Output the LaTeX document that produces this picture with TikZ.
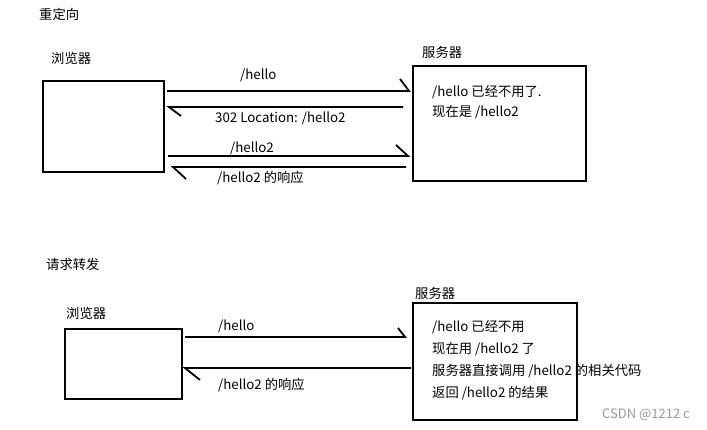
\documentclass[tikz,border=0pt]{standalone}
\usepackage{fontspec}
\setmainfont{Noto Sans CJK SC}
\begin{document}
\begin{tikzpicture}[x=1pt,y=-1pt,
  box/.style={draw=black, line width=2pt, minimum width=#1, inner sep=0pt},
  lbl/.style={anchor=west, inner sep=0pt, font=\fontsize{13.3}{15}\selectfont},
  msg/.style={line width=1.8pt, line join=miter, line cap=butt}]
\useasboundingbox (0,0) rectangle (707,429);
% --- top: redirect ---
\node[lbl] (t1) at (39,14) {重定向};
\node[lbl] (bl1) at (51,58) {浏览器};
\node[lbl] (sl1) at (422,52) {服务器};
\node[box=121pt, minimum height=91pt] (b1) at (103.5,126.5) {};
\node[box=173pt, minimum height=115pt] (s1) at (499.5,123.5) {};
\node[lbl] (s1a) at (432,92) {/hello 已经不用了.};
\node[lbl] (s1b) at (432,112) {现在是 /hello2};
\coordinate (a1s) at (167,91);  \coordinate (a1e) at (409,91);
\coordinate (a2s) at (403,107); \coordinate (a2e) at (169,107);
\coordinate (a3s) at (168,156); \coordinate (a3e) at (408,156);
\coordinate (a4s) at (406,167); \coordinate (a4e) at (173,167);
\draw[msg] (a1s) -- (a1e) -- ++(-9,-12);
\draw[msg] (a2s) -- (a2e) -- ++(12,9);
\draw[msg] (a3s) -- (a3e) -- ++(-12,-11);
\draw[msg] (a4s) -- (a4e) -- ++(13,12);
\node[lbl] (l1) at (240,75) {/hello};
\node[lbl] (l2) at (215,118) {302 Location: /hello2};
\node[lbl] (l3) at (230,148) {/hello2};
\node[lbl] (l4) at (217,178) {/hello2 的响应};
% --- bottom: forward ---
\node[lbl] (t2) at (46,264) {请求转发};
\node[lbl] (bl2) at (66,313) {浏览器};
\node[lbl] (sl2) at (415,293) {服务器};
\node[box=117pt, minimum height=70pt] (b2) at (123.5,364) {};
\node[box=164pt, minimum height=117pt] (s2) at (495,361.5) {};
\node[lbl] (s2a) at (432,327) {/hello 已经不用};
\node[lbl] (s2b) at (432,349) {现在用 /hello2 了};
\node[lbl] (s2c) at (432,371) {服务器直接调用 /hello2 的相关代码};
\node[lbl] (s2d) at (432,393) {返回 /hello2 的结果};
\coordinate (c1s) at (185,337); \coordinate (c1e) at (405,337);
\coordinate (c2s) at (411,368); \coordinate (c2e) at (185,368);
\draw[msg] (c1s) -- (c1e) -- ++(-7,-9);
\draw[msg] (c2s) -- (c2e) -- ++(15,12);
\node[lbl] (m1) at (218,326) {/hello};
\node[lbl] (m2) at (218,385) {/hello2 的响应};
\node[lbl, text=black!40, font=\fontsize{13}{15}\selectfont] (wm) at (602,415) {CSDN @1212 c};
\end{tikzpicture}
\end{document}
